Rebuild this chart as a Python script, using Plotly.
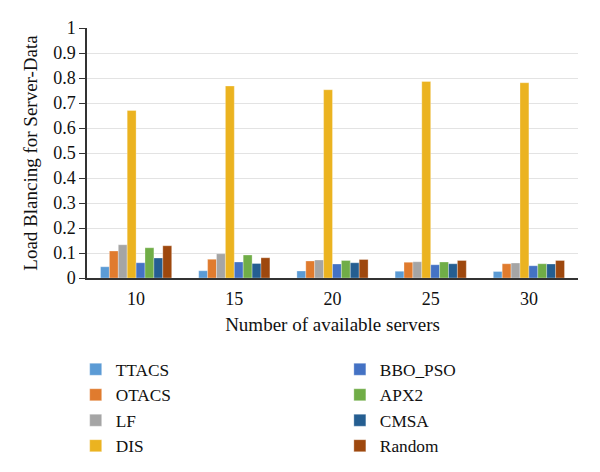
import plotly.graph_objects as go

categories = ["10", "15", "20", "25", "30"]
series_names = ["TTACS", "OTACS", "LF", "DIS", "BBO_PSO", "APX2", "CMSA", "Random"]
ttacs = [0.045, 0.029, 0.028, 0.027, 0.026]
otacs = [0.108, 0.075, 0.068, 0.063, 0.057]
lf = [0.133, 0.097, 0.072, 0.065, 0.060]
dis = [0.670, 0.768, 0.753, 0.786, 0.781]
bbo_pso = [0.061, 0.064, 0.056, 0.053, 0.049]
apx2 = [0.121, 0.092, 0.070, 0.064, 0.057]
cmsa = [0.080, 0.058, 0.061, 0.057, 0.056]
random_ = [0.129, 0.081, 0.074, 0.070, 0.070]
values = [ttacs, otacs, lf, dis, bbo_pso, apx2, cmsa, random_]
colors = ["#5B9BD5", "#E07B2E", "#A5A5A5", "#EBB320", "#4472C4", "#70AD47", "#255E91", "#9E480E"]
y_ticks = [0, 0.1, 0.2, 0.3, 0.4, 0.5, 0.6, 0.7, 0.8, 0.9, 1]
y_tick_labels = ["0", "0.1", "0.2", "0.3", "0.4", "0.5", "0.6", "0.7", "0.8", "0.9", "1"]

FONT = "Liberation Serif"
fig = go.Figure()
for i, (name, vals, col) in enumerate(zip(series_names, values, colors)):
    fig.add_trace(go.Bar(
        x=categories, y=vals, name=name,
        marker=dict(color=col, line=dict(color="rgba(255,255,255,0.6)", width=0.5)),
        legend="legend" if i < 4 else "legend2",
    ))

fig.update_layout(
    width=600, height=472,
    margin=dict(l=87, r=22, t=28, b=194, autoexpand=False),
    paper_bgcolor="white", plot_bgcolor="white",
    barmode="group", bargap=0.275, bargroupgap=0,
    font=dict(family=FONT, size=18, color="#111"),
    xaxis=dict(
        type="category", showline=True, linecolor="#333", linewidth=1.5,
        ticks="", tickfont=dict(size=18), automargin=False, ticklabelstandoff=4,
        title=dict(text="Number of available servers", font=dict(size=19), standoff=9),
    ),
    yaxis=dict(
        range=[0, 1], tickvals=y_ticks, ticktext=y_tick_labels,
        showline=True, linecolor="#333", linewidth=1.5,
        ticks="outside", ticklen=6, tickcolor="#333",
        showgrid=True, gridcolor="#E3E3E3", gridwidth=1,
        tickfont=dict(size=18), zeroline=False, automargin=False,
        title=dict(text="Load Blancing for Server-Data", font=dict(size=19), standoff=11),
    ),
    legend=dict(x=-0.023, y=-0.294, xanchor="left", yanchor="top",
                orientation="v", font=dict(size=17.3), tracegroupgap=0),
    legend2=dict(x=0.515, y=-0.294, xanchor="left", yanchor="top",
                 orientation="v", font=dict(size=17.3), tracegroupgap=0),
    showlegend=True,
)

fig.write_html("out.html", config={"displayModeBar": False},
               post_script="document.body.style.margin='0';")
